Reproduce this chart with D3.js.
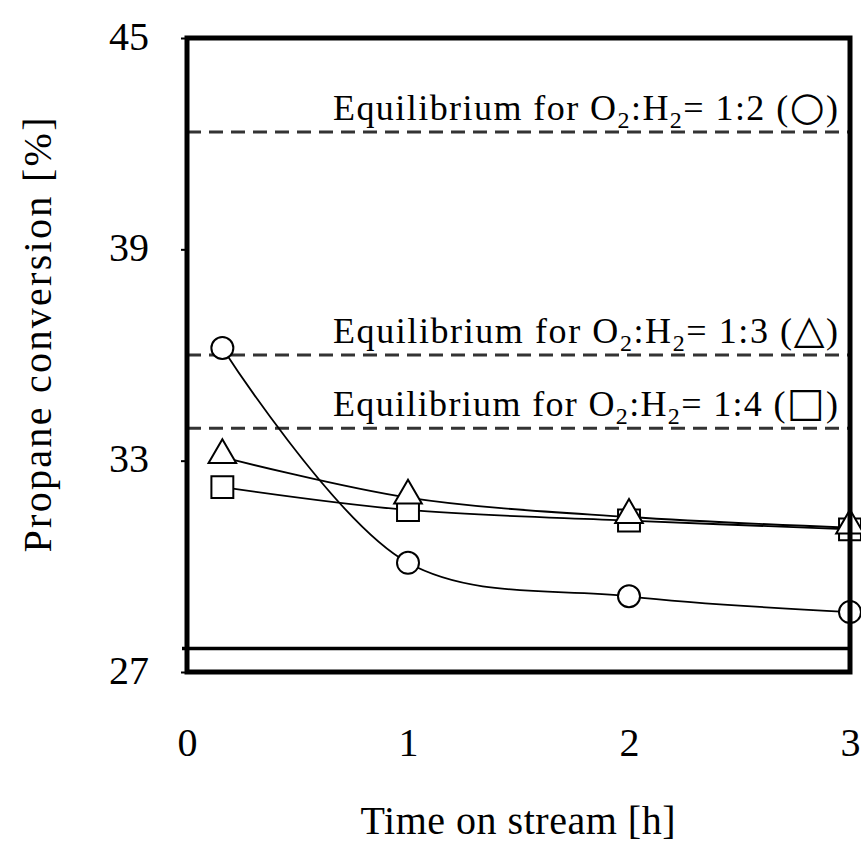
<!DOCTYPE html>
<html>
<head>
<meta charset="utf-8">
<script src="https://cdn.jsdelivr.net/npm/d3@7"></script>
<style>
  body { margin: 0; background: #fff; }
  text { font-family: "Liberation Serif", "DejaVu Serif", serif; fill: #000; }
</style>
</head>
<body>
<div id="chart"></div>
<script>
// values
const timeH = [0.16, 1, 2, 3];
const ratio12 = [36.2, 30.1, 29.15, 28.7];   // circles
const ratio13 = [33.1, 31.95, 31.4, 31.1];   // triangles
const ratio14 = [32.25, 31.6, 31.3, 31.05];  // squares
const equilibrium = [
    { value: 42.33, ratio: '1:2', symbol: '\u25CB' },
    { value: 36.0, ratio: '1:3', symbol: '\u25B3' },
    { value: 33.92, ratio: '1:4', symbol: '\u25A1' }
];
const baseLine = 27.67;
const xTicks = [0, 1, 2, 3];
const yTicks = [27, 33, 39, 45];

const width = 861, height = 846;
const marginLeft = 187, marginRight = 11, marginTop = 38, marginBottom = 174;

const svg = d3.select('#chart').append('svg')
    .attr('width', width)
    .attr('height', height);

const xScale = d3.scaleLinear()
    .domain([0, 3])
    .range([marginLeft, width - marginRight]);
const yScale = d3.scaleLinear()
    .domain([27, 45])
    .range([height - marginBottom, marginTop]);

// equilibrium dashed lines with labels
const eq = svg.append('g').attr('class', 'equilibrium');
eq.selectAll('line')
    .data(equilibrium)
    .enter()
    .append('line')
    .attr('x1', xScale(0))
    .attr('x2', xScale(3))
    .attr('y1', d => yScale(d.value))
    .attr('y2', d => yScale(d.value))
    .attr('stroke', '#333')
    .attr('stroke-width', 3)
    .attr('stroke-dasharray', '14,8');

const labels = eq.selectAll('text')
    .data(equilibrium)
    .enter()
    .append('text')
    .attr('x', 333)
    .attr('y', d => yScale(d.value) - 12)
    .attr('textLength', 505)
    .attr('lengthAdjust', 'spacing')
    .attr('font-size', 36);
labels.append('tspan').text('Equilibrium for O');
labels.append('tspan').attr('font-size', 24).attr('dy', 8).text('2');
labels.append('tspan').attr('dy', -8).text(':H');
labels.append('tspan').attr('font-size', 24).attr('dy', 8).text('2');
labels.append('tspan').attr('dy', -8).text('= ');
labels.append('tspan').text(d => d.ratio + ' (');
labels.append('tspan')
    .style('font-family', '"DejaVu Sans", sans-serif')
    .attr('font-size', 40)
    .text(d => d.symbol);
labels.append('tspan').text(')');

// solid horizontal line near the bottom
svg.append('line')
    .attr('x1', xScale(0) - 5)
    .attr('x2', xScale(3))
    .attr('y1', yScale(baseLine))
    .attr('y2', yScale(baseLine))
    .attr('stroke', '#000')
    .attr('stroke-width', 3.5);

// series lines
const line = d3.line()
    .x((d, i) => xScale(timeH[i]))
    .y(d => yScale(d))
    .curve(d3.curveCatmullRom.alpha(0.5));

const series = [
    { values: ratio12, shape: 'circle' },
    { values: ratio13, shape: 'triangle' },
    { values: ratio14, shape: 'square' }
];

svg.append('g').attr('class', 'series-lines')
    .selectAll('path')
    .data(series)
    .enter()
    .append('path')
    .attr('d', d => line(d.values))
    .attr('fill', 'none')
    .attr('stroke', '#000')
    .attr('stroke-width', 1.8);

// markers: squares first, then triangles, then circles
const symbolMap = {
    circle: d3.symbol().type(d3.symbolCircle).size(380),
    triangle: d3.symbol().type(d3.symbolTriangle).size(330),
    square: d3.symbol().type(d3.symbolSquare).size(480)
};
[series[2], series[1], series[0]].forEach(s => {
    svg.append('g').attr('class', s.shape + '-markers')
        .selectAll('path')
        .data(s.values)
        .enter()
        .append('path')
        .attr('transform', (d, i) => `translate(${xScale(timeH[i])},${yScale(d) + (s.shape === 'triangle' ? -2 : 0)})`)
        .attr('d', symbolMap[s.shape]())
        .attr('fill', '#fff')
        .attr('stroke', '#000')
        .attr('stroke-width', 2);
});

// y axis (short outer ticks)
const yAxis = d3.axisLeft(yScale).tickValues(yTicks).tickSize(6).tickPadding(32);
const yAxisGroup = svg.append('g')
    .attr('class', 'y-axis')
    .attr('transform', `translate(${marginLeft}, 0)`)
    .call(yAxis);
yAxisGroup.select('.domain').remove();
yAxisGroup.selectAll('line').attr('stroke-width', 2);
yAxisGroup.selectAll('text').attr('font-size', 40).attr('dy', '0.28em');

// x axis
const xAxis = d3.axisBottom(xScale).tickValues(xTicks)
    .tickFormat(d3.format('d')).tickSize(0).tickPadding(56);
const xAxisGroup = svg.append('g')
    .attr('class', 'x-axis')
    .attr('transform', `translate(0, ${height - marginBottom})`)
    .call(xAxis);
xAxisGroup.select('.domain').remove();
xAxisGroup.selectAll('text').attr('font-size', 40);

// frame
svg.append('rect')
    .attr('x', marginLeft)
    .attr('y', marginTop)
    .attr('width', width - marginRight - marginLeft)
    .attr('height', height - marginBottom - marginTop)
    .attr('fill', 'none')
    .attr('stroke', '#000')
    .attr('stroke-width', 5);

// axis titles
svg.append('text')
    .attr('transform', `translate(51, 335) rotate(-90)`)
    .attr('text-anchor', 'middle')
    .attr('font-size', 40)
    .attr('textLength', 435)
    .attr('lengthAdjust', 'spacing')
    .text('Propane conversion [%]');
svg.append('text')
    .attr('x', 518)
    .attr('y', 834)
    .attr('text-anchor', 'middle')
    .attr('font-size', 40)
    .attr('textLength', 315)
    .attr('lengthAdjust', 'spacing')
    .text('Time on stream [h]');
</script>
</body>
</html>
